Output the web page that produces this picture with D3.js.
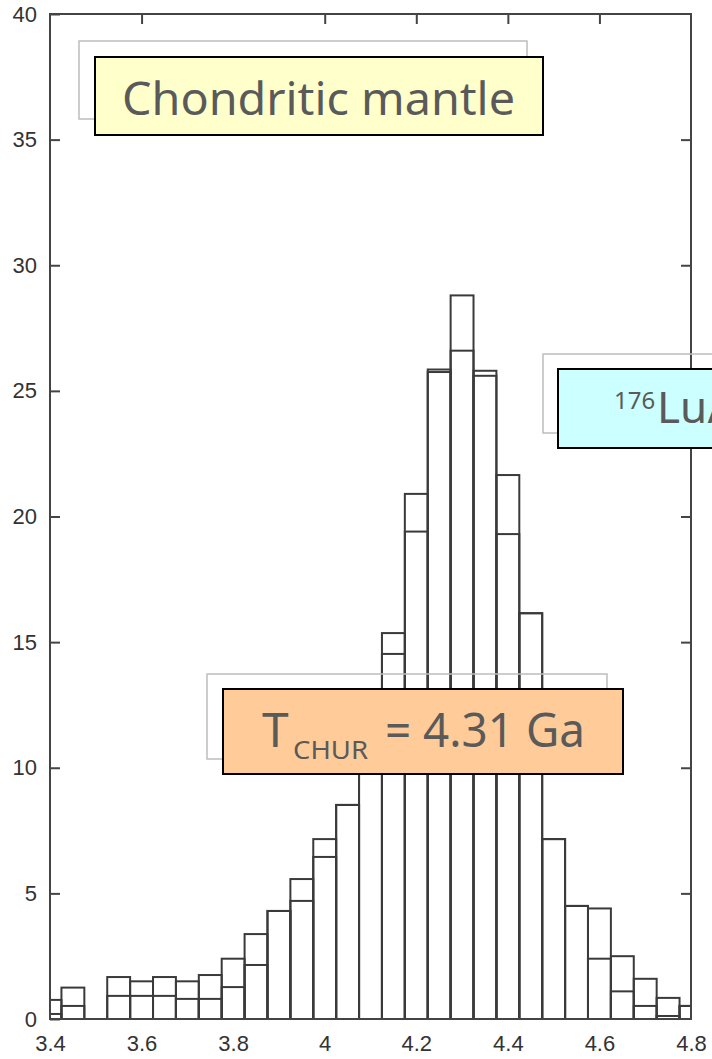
<!DOCTYPE html>
<html>
<head>
<meta charset="utf-8">
<script src="https://cdn.jsdelivr.net/npm/d3@7"></script>
<style>
  body { margin: 0; background: #fff; }
  .axis text { font-family: "Liberation Sans", Arial, sans-serif; font-size: 22px; fill: #333; }
  .axis line { stroke: #444; stroke-width: 2; }
  .note { font-family: "Noto Sans", sans-serif; fill: #5a5a5a; }
</style>
</head>
<body>
<div id="chart-area"></div>
<script>
// bin centres (width 0.05)
const binCenters = [3.40, 3.45, 3.50, 3.55, 3.60, 3.65, 3.70, 3.75, 3.80, 3.85,
    3.90, 3.95, 4.00, 4.05, 4.10, 4.15, 4.20, 4.25, 4.30, 4.35,
    4.40, 4.45, 4.50, 4.55, 4.60, 4.65, 4.70, 4.75, 4.80]
// outer histogram
const countsA = [0.76, 1.25, 0, 1.67, 1.5, 1.67, 1.5, 1.75, 2.4, 3.38,
    4.3, 5.57, 7.16, 8.52, 11.5, 15.36, 20.9, 25.85, 28.8, 25.8,
    21.65, 16.15, 7.16, 4.5, 4.4, 2.5, 1.6, 0.84, 0.52]
// inner histogram
const countsB = [0.2, 0.52, 0, 0.92, 0.92, 0.92, 0.8, 0.8, 1.27, 2.15,
    4.3, 4.7, 6.45, 8.52, 10.6, 14.53, 19.4, 25.75, 26.6, 25.6,
    19.3, 16.15, 7.16, 4.5, 2.4, 1.1, 0.52, 0.12, 0.52]
const BIN = 0.05

const xTicks = [3.4, 3.6, 3.8, 4.0, 4.2, 4.4, 4.6, 4.8]
const xTopTicks = [3.6, 4.0, 4.2, 4.4, 4.6]
const yTicks = [0, 5, 10, 15, 20, 25, 30, 35, 40]

const W = 712, H = 1059
const LEFT = 50, RIGHT = 691, TOP = 14, BOTTOM = 1019

const svg = d3.select("#chart-area").append("svg")
    .attr("width", W)
    .attr("height", H)

const x = d3.scaleLinear().domain([3.4, 4.8]).range([LEFT, RIGHT])
const y = d3.scaleLinear().domain([0, 40]).range([BOTTOM, TOP])

svg.append("clipPath").attr("id", "plot-clip")
    .append("rect")
    .attr("x", LEFT).attr("y", TOP)
    .attr("width", RIGHT - LEFT).attr("height", BOTTOM - TOP)

const bars = svg.append("g").attr("clip-path", "url(#plot-clip)")

function drawHist(counts) {
    const data = binCenters.map((c, i) => ({c: c, v: counts[i]})).filter(d => d.v > 0)
    bars.append("g").selectAll("rect").data(data)
        .enter().append("rect")
        .attr("x", d => x(d.c - BIN / 2))
        .attr("width", d => x(d.c + BIN / 2) - x(d.c - BIN / 2))
        .attr("y", d => y(d.v))
        .attr("height", d => y(0) - y(d.v))
        .attr("fill", "none")
        .attr("stroke", "#3a3a3a")
        .attr("stroke-width", 2)
}
drawHist(countsB)
drawHist(countsA)

// axes
const yAxisL = d3.axisLeft(y).tickValues(yTicks).tickSize(-10).tickPadding(13)
svg.append("g").attr("class", "axis")
    .attr("transform", `translate(${LEFT},0)`)
    .call(yAxisL)
    .call(g => g.select(".domain").remove())

const yAxisR = d3.axisRight(y).tickValues(yTicks.slice(1, -1)).tickSize(-10).tickFormat("")
svg.append("g").attr("class", "axis")
    .attr("transform", `translate(${RIGHT},0)`)
    .call(yAxisR)
    .call(g => g.select(".domain").remove())

const xAxisB = d3.axisBottom(x).tickValues(xTicks).tickSize(0).tickPadding(16)
    .tickFormat(d => d3.format("")(+d.toFixed(1)))
svg.append("g").attr("class", "axis")
    .attr("transform", `translate(0,${BOTTOM})`)
    .call(xAxisB)
    .call(g => g.select(".domain").remove())

const xAxisT = d3.axisTop(x).tickValues(xTopTicks).tickSize(-10).tickFormat("")
svg.append("g").attr("class", "axis")
    .attr("transform", `translate(0,${TOP})`)
    .call(xAxisT)
    .call(g => g.select(".domain").remove())

// frame
svg.append("rect")
    .attr("x", LEFT).attr("y", TOP)
    .attr("width", RIGHT - LEFT).attr("height", BOTTOM - TOP)
    .attr("fill", "none")
    .attr("stroke", "#444")
    .attr("stroke-width", 2)

// annotation boxes (grey shadow outline + coloured box)
function noteBox(sx, sy, bx, by, w, h, fill) {
    svg.append("rect")
        .attr("x", sx).attr("y", sy).attr("width", w).attr("height", h)
        .attr("fill", "none").attr("stroke", "#bdbdbd").attr("stroke-width", 1.5)
    svg.append("rect")
        .attr("x", bx).attr("y", by).attr("width", w).attr("height", h)
        .attr("fill", fill).attr("stroke", "#000").attr("stroke-width", 2)
}

noteBox(79, 41, 95, 57, 448, 78, "#ffffcc")
svg.append("text").attr("class", "note")
    .attr("x", 122).attr("y", 115)
    .attr("font-size", "46px")
    .attr("textLength", 393).attr("lengthAdjust", "spacingAndGlyphs")
    .text("Chondritic mantle")

// this box runs off the right edge, as in the reference
noteBox(543, 354, 558, 369, 420, 79, "#ccffff")
const lu = svg.append("text").attr("class", "note")
    .attr("x", 614).attr("y", 423)
    .attr("font-size", "44px")
lu.append("tspan").attr("font-size", "24px").attr("dy", -14).text("176")
lu.append("tspan").attr("dy", 14).attr("x", 657).text("Lu/")
lu.append("tspan").attr("font-size", "24px").attr("dy", -14).text("177")
lu.append("tspan").attr("dy", 14).text("Hf")

noteBox(207, 674, 223, 689, 400, 85, "#ffcc99")
svg.append("text").attr("class", "note")
    .attr("x", 262).attr("y", 747)
    .attr("font-size", "48px")
    .text("T")
svg.append("text").attr("class", "note")
    .attr("x", 293).attr("y", 759)
    .attr("font-size", "26px")
    .attr("textLength", 75).attr("lengthAdjust", "spacingAndGlyphs")
    .text("CHUR")
svg.append("text").attr("class", "note")
    .attr("x", 385).attr("y", 747)
    .attr("font-size", "48px")
    .attr("textLength", 200).attr("lengthAdjust", "spacingAndGlyphs")
    .text("= 4.31 Ga")
</script>
</body>
</html>
